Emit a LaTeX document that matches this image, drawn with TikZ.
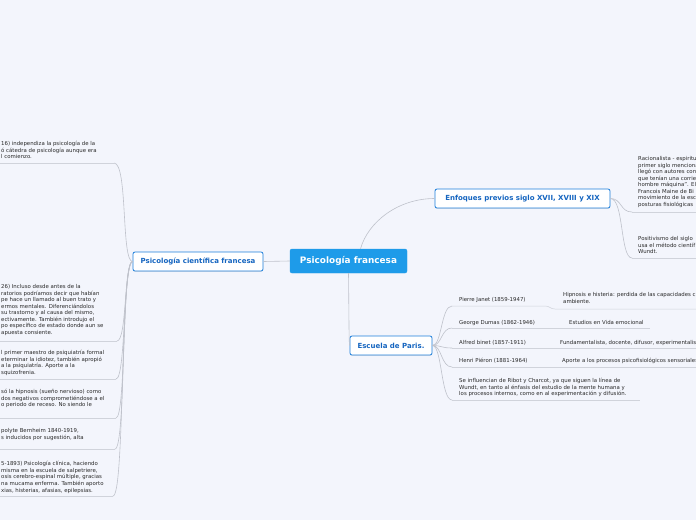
\documentclass[tikz,border=0pt]{standalone}
\usepackage{fontspec}
\setmainfont{DejaVu Sans}
\usetikzlibrary{shadows}
\definecolor{bg}{HTML}{F3F5FC}
\definecolor{rootblue}{HTML}{1E9BE9}
\definecolor{branchblue}{HTML}{1E7FDB}
\definecolor{branchtxt}{HTML}{1565C0}
\definecolor{linegray}{HTML}{BFC2CB}
\definecolor{ulgray}{HTML}{D0D3DB}
\definecolor{txt}{HTML}{2A2A2A}
\tikzset{
  leaf/.style={anchor=north west, inner sep=0pt, align=left, font=\fontsize{5.4}{6.55}\selectfont, text=txt},
  leafone/.style={anchor=base west, inner sep=0pt, font=\fontsize{5.4}{6.55}\selectfont, text=txt},
  branch/.style={draw=branchblue, fill=white, rounded corners=2pt, line width=0.8pt, text=branchtxt,
    font=\fontsize{7}{8}\selectfont\bfseries, inner sep=0pt, minimum height=19pt,
    drop shadow={opacity=0.18, shadow xshift=0pt, shadow yshift=-0.9pt}},
  rootbox/.style={fill=rootblue, draw=rootblue, rounded corners=2pt, text=white,
    font=\fontsize{8.9}{10}\selectfont\bfseries, inner sep=0pt, minimum width=117pt, minimum height=24pt},
  conn/.style={draw=linegray, line width=0.6pt},
  uline/.style={draw=ulgray, line width=0.5pt},
}
\begin{document}
\begin{tikzpicture}[x=1pt,y=-1pt]
\useasboundingbox (0,0) rectangle (696,520);
\fill[bg] (0,0) rectangle (696,520);
\clip (0,0) rectangle (696,520);

% main nodes
\node[rootbox] (root) at (348.5,261) {Psicología francesa};
\node[branch, minimum width=130pt] (pc) at (198,261.5) {Psicología científica francesa};
\node[branch, minimum width=175pt] (enf) at (522.5,198.5) {Enfoques previos siglo XVII, XVIII y XIX};
\node[branch, minimum width=82pt] (esc) at (391,345.5) {Escuela de Paris.};

% root connectors
\draw[conn] (root.west) -- (pc.east);
\draw[conn] ([xshift=12pt]root.north) .. controls (368,222) and (398,198.5) .. (enf.west);
\draw[conn] (root.south) .. controls (349,320) and (349,345.5) .. (esc.west);

% left leaves
\node[leaf] (a1) at (1,141.3) {16) independiza la psicología de la\\ó cátedra de psicología aunque era\\l comienzo.};
\node[leaf] (a2) at (1,284.3) {26) Incluso desde antes de la\\ratorios podríamos decir que habían\\pe hace un llamado al buen trato y\\ermos mentales. Diferenciándolos\\ su trastorno y al causa del mismo,\\ectivamente. También introdujo el\\po específico de estado donde aun se\\apuesta consiente.};
\node[leaf] (a3) at (1,350.3) {l primer maestro de psiquiatría formal\\eterminar la idiotez, también apropió\\ a la psiquiatría. Aporte a la\\squizofrenia.};
\node[leaf] (a4) at (1,389.3) {só la hipnosis (sueño nervioso) como\\dos negativos comprometiéndose a el\\o periodo de receso. No siendo le};
\node[leaf] (a5) at (1,428.3) {polyte Bernheim 1840-1919,\\s inducidos por sugestión, alta};
\node[leaf] (a6) at (1,461.3) {5-1893) Psicología clínica, haciendo\\ misma en la escuela de salpetriere,\\osis cerebro-espinal múltiple, gracias\\na mucama enferma.  También aporto\\xias, histerias, afasias, epilepsias.};

\coordinate (l1) at (114,163);   \coordinate (l1s) at (0,163);
\coordinate (l2) at (117,341);   \coordinate (l2s) at (0,341);
\coordinate (l3) at (116,379);   \coordinate (l3s) at (0,379);
\coordinate (l4) at (116,418);   \coordinate (l4s) at (0,418);
\coordinate (l5) at (115,449);   \coordinate (l5s) at (0,449);
\coordinate (l6) at (113,496);   \coordinate (l6s) at (0,496);

\draw[uline] (l1) -- (l1s);
\draw[uline] (l2) -- (l2s);
\draw[uline] (l3) -- (l3s);
\draw[uline] (l4) -- (l4s);
\draw[uline] (l5) -- (l5s);
\draw[uline] (l6) -- (l6s);

\draw[conn] (pc.west) .. controls (121,261.5) and (128,163) .. (l1);
\draw[conn] (pc.west) .. controls (124,261.5) and (127,341) .. (l2);
\draw[conn] (pc.west) .. controls (123,261.5) and (126,379) .. (l3);
\draw[conn] (pc.west) .. controls (122,261.5) and (126,418) .. (l4);
\draw[conn] (pc.west) .. controls (121,261.5) and (126,449) .. (l5);
\draw[conn] (pc.west) .. controls (120,261.5) and (125,496) .. (l6);

% Enfoques leaves
\node[leaf] (b1) at (638,156.3) {Racionalista - espiritu\\primer siglo menciona\\llegó con autores con\\que tenían una corrie\\hombre máquina". El\\Francois Maine de Bi\\movimiento de la esc\\posturas fisiológicas};
\node[leaf] (b2) at (638,236.3) {Positivismo del siglo\\usa el método científ\\Wundt.};
\coordinate (e1) at (632,212); \coordinate (e1s) at (696,212);
\coordinate (e2) at (632,258); \coordinate (e2s) at (696,258);
\draw[uline] (e1) -- (e1s);
\draw[uline] (e2) -- (e2s);
\draw[conn] (enf.east) .. controls (622,198.5) and (620,212) .. (e1);
\draw[conn] (enf.east) .. controls (624,198.5) and (620,258) .. (e2);

% Escuela leaves
\node[leafone] (c1) at (459,301) {Pierre  Janet (1859-1947)};
\node[leaf] (c1b) at (563,292.3) {Hipnosis e histeria: perdida de las capacidades c\\ambiente.};
\node[leafone] (c2) at (459,324) {George Dumas (1862-1946)};
\node[leafone] (c2b) at (569,324) {Estudios en Vida emocional};
\node[leafone] (c3) at (459,344) {Alfred binet (1857-1911)};
\node[leafone] (c3b) at (560,344) {Fundamentalista, docente, difusor, experimentalis};
\node[leafone] (c4) at (459,362) {Henri Piéron (1881-1964)};
\node[leafone] (c4b) at (562,362) {Aporte a los procesos psicofisiológicos sensoriales};
\node[leaf] (c5) at (459,378.3) {Se influencian de Ribot y Charcot, ya que siguen la línea de\\Wundt, en tanto al énfasis del estudio de la mente humana y\\los procesos internos, como en al experimentación y difusión.};

\coordinate (p1) at (452,306);   \coordinate (p1e) at (545,306);
\coordinate (p1g) at (555,309);  \coordinate (p1ge) at (696,309);
\coordinate (p2) at (452,328);   \coordinate (p2e) at (650,328);
\coordinate (p3) at (452,348);   \coordinate (p3e) at (696,348);
\coordinate (p4) at (452,367);   \coordinate (p4e) at (696,367);
\coordinate (p5) at (452,400);   \coordinate (p5e) at (640,400);

\draw[uline] (p1) -- (p1e) .. controls (550,306) and (550,309) .. (p1g) -- (p1ge);
\draw[uline] (p2) -- (p2e);
\draw[uline] (p3) -- (p3e);
\draw[uline] (p4) -- (p4e);
\draw[uline] (p5) -- (p5e);

\draw[conn] (esc.east) .. controls (442,345.5) and (441,306) .. (p1);
\draw[conn] (esc.east) .. controls (442,345.5) and (441,328) .. (p2);
\draw[conn] (esc.east) .. controls (442,345.5) and (441,348) .. (p3);
\draw[conn] (esc.east) .. controls (442,345.5) and (441,367) .. (p4);
\draw[conn] (esc.east) .. controls (442,345.5) and (441,400) .. (p5);
\end{tikzpicture}
\end{document}
